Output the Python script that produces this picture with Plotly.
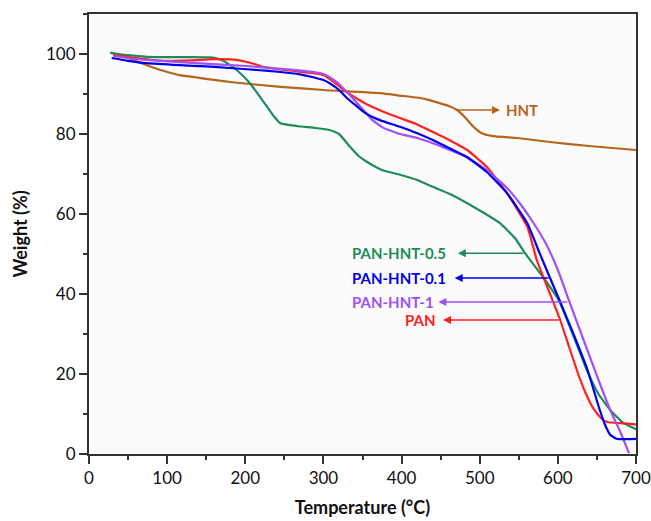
import plotly.graph_objects as go

# ---- data ----
HNT_T = [28, 50, 74, 95, 116, 150, 180, 245, 300, 373, 398, 430, 449, 462, 471, 482, 492, 500, 505, 520, 548, 590, 640, 700]
HNT_W = [100.3, 99.0, 97.2, 95.8, 94.7, 93.8, 93.0, 91.8, 91.0, 90.2, 89.6, 88.8, 87.7, 86.9, 86.0, 84.0, 81.8, 80.5, 80.0, 79.4, 79.0, 78.0, 77.0, 76.0]

G_T = [27, 50, 74, 120, 159, 172, 189, 206, 217, 228, 237, 245, 266, 290, 308, 320, 334, 345, 356, 375, 398, 420, 440, 462, 484, 505, 526, 545, 558, 580, 601, 620, 637, 652, 667, 684, 700]
G_W = [100.3, 99.7, 99.3, 99.2, 99.1, 98.3, 96.0, 92.7, 89.8, 86.8, 84.3, 82.7, 82.0, 81.5, 81.0, 80.0, 76.8, 74.5, 73.0, 71.0, 69.8, 68.5, 66.8, 65.0, 62.7, 60.3, 57.7, 54.0, 50.2, 44.5, 38.5, 29.5, 21.0, 15.0, 11.0, 7.7, 6.2]

B_T = [29, 50, 74, 116, 150, 180, 215, 245, 270, 287, 300, 308, 320, 330, 341, 351, 362, 373, 398, 420, 440, 462, 484, 509, 535, 561, 575, 590, 602, 620, 638, 652, 660, 667, 675, 682, 700]
B_W = [99.0, 98.3, 97.7, 97.2, 96.9, 96.5, 96.0, 95.5, 94.9, 94.2, 93.5, 92.7, 91.0, 89.0, 87.2, 85.6, 84.3, 83.4, 81.8, 80.2, 78.5, 76.4, 74.2, 70.5, 65.2, 57.7, 51.0, 44.0, 38.5, 30.0, 21.0, 12.0, 7.5, 4.8, 3.8, 3.7, 3.8]

P_T = [31, 50, 74, 138, 202, 250, 287, 300, 308, 320, 330, 341, 351, 362, 376, 398, 420, 440, 462, 484, 509, 535, 552, 568, 585, 600, 614, 632, 652, 667, 680, 691]
P_W = [99.5, 99.0, 98.5, 97.7, 97.0, 96.2, 95.5, 95.0, 94.2, 92.5, 90.5, 88.2, 86.0, 83.6, 81.6, 80.0, 79.0, 77.7, 76.0, 74.2, 71.0, 66.5, 62.5, 58.0, 52.5, 46.0, 38.5, 29.0, 18.5, 11.0, 5.5, 0.2]

R_T = [31, 60, 95, 130, 159, 185, 202, 215, 223, 250, 287, 300, 310, 321, 332, 343, 356, 373, 398, 420, 440, 462, 484, 509, 535, 561, 573, 588, 603, 614, 626, 636, 645, 655, 663, 680, 700]
R_W = [99.8, 99.0, 98.3, 98.4, 98.7, 98.6, 98.0, 97.3, 96.8, 96.0, 95.2, 94.7, 93.5, 91.8, 90.2, 88.8, 87.4, 85.9, 84.0, 82.4, 80.5, 78.4, 76.0, 71.8, 65.2, 56.8, 48.5, 41.0, 33.5, 27.0, 20.0, 15.0, 11.5, 9.0, 8.0, 7.7, 7.4]

X_TICKS = [0, 100, 200, 300, 400, 500, 600, 700]
Y_TICKS = [0, 20, 40, 60, 80, 100]

# label, colour, label y, arrow head x, arrow tail x, text x, text anchor
LABELS = [
    ("HNT", "#b5651d", 86.0, 526, 468, 531, "left"),
    ("PAN-HNT-0.5", "#1e8c5a", 50.2, 472, 558, 460, "right"),
    ("PAN-HNT-0.1", "#0000ee", 44.0, 468, 590, 460, "right"),
    ("PAN-HNT-1", "#a050f5", 38.0, 447, 614, 444, "right"),
    ("PAN", "#ff2020", 33.5, 453, 603, 447, "right"),
]

COLORS = {"HNT": "#b5651d", "PAN-HNT-0.5": "#1e8c5a", "PAN-HNT-0.1": "#0000ee",
          "PAN-HNT-1": "#a050f5", "PAN": "#ff2020"}

fig = go.Figure()
for name, t, w in [("HNT", HNT_T, HNT_W), ("PAN-HNT-0.5", G_T, G_W), ("PAN", R_T, R_W),
                   ("PAN-HNT-1", P_T, P_W), ("PAN-HNT-0.1", B_T, B_W)]:
    fig.add_trace(go.Scatter(x=t, y=w, mode="lines", name=name,
                             line=dict(color=COLORS[name], width=2.2, shape="spline", smoothing=0.4)))

font_fam = "Lato, 'Open Sans', sans-serif"
for text, col, y, hx, tx, xt, anc in LABELS:
    fig.add_annotation(x=hx, y=y, ax=tx, ay=y, xref="x", yref="y", axref="x", ayref="y",
                       text="", showarrow=True, arrowhead=2, arrowsize=1, arrowwidth=1.6,
                       arrowcolor=col, standoff=0, startstandoff=0)
    fig.add_annotation(x=xt, y=y, xref="x", yref="y", text="<b>%s</b>" % text, showarrow=False,
                       xanchor=anc, yanchor="middle", font=dict(family=font_fam, size=15, color=col))

axis_common = dict(showline=True, linecolor="#333333", linewidth=2, mirror=True,
                   ticks="outside", ticklen=8, tickwidth=1.5, tickcolor="#333333",
                   showgrid=False, zeroline=False, automargin=False,
                   tickfont=dict(family=font_fam, size=17, color="#111111"))

fig.update_xaxes(range=[0, 700], tickvals=X_TICKS,
                 minor=dict(ticks="outside", ticklen=4, dtick=50, tickcolor="#333333", tickwidth=1.5),
                 title=dict(text="<b>Temperature (°C)</b>", font=dict(family=font_fam, size=18, color="#111111"), standoff=14),
                 **axis_common)
fig.update_yaxes(range=[0, 110], tickvals=Y_TICKS,
                 minor=dict(ticks="outside", ticklen=4, dtick=10, tickcolor="#333333", tickwidth=1.5),
                 title=dict(text="<b>Weight (%)</b>", font=dict(family=font_fam, size=18, color="#111111"), standoff=14),
                 **axis_common)

fig.update_layout(width=651, height=521, showlegend=False,
                  margin=dict(l=89, r=15, t=14, b=67),
                  plot_bgcolor="#fbfbfb", paper_bgcolor="#ffffff")

fig.write_html("out.html")
